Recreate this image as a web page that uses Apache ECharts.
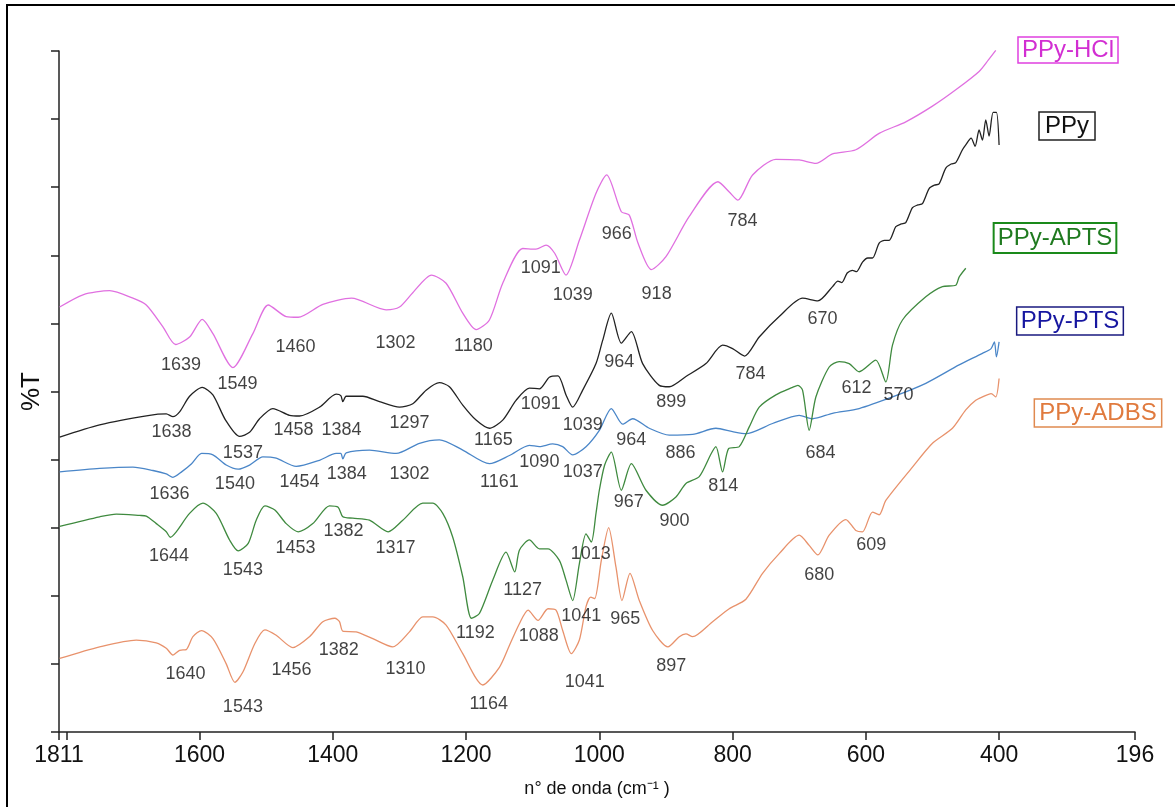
<!DOCTYPE html>
<html>
<head>
    <meta charset="utf-8">
    <title>FTIR PPy</title>
    <script src="https://cdn.jsdelivr.net/npm/echarts@6/dist/echarts.min.js"></script>
    <style>
        html, body { margin: 0; padding: 0; background: #fff; }
    </style>
</head>
<body>
    <div id="main" style="width: 1175px;height:807px;"></div>
    <script type="text/javascript">
        // eixo x (numero de onda) e rotulos
        var xTickValues = [1811, 1800, 1600, 1400, 1200, 1000, 800, 600, 400, 196];
        var xLabelValues = [1811, 1600, 1400, 1200, 1000, 800, 600, 400, 196];

        // espectros [numero de onda, %T relativo]
        var hclData = [
            [1810,6.24],[1775,6.42],[1735,6.48],[1700,6.37],[1680,6.27],[1655,5.95],[1636,5.69],[1615,5.80],
            [1596,6.06],[1580,5.85],[1550,5.35],[1520,5.85],[1497,6.27],[1470,6.10],[1452,6.09],[1415,6.28],
            [1372,6.37],[1320,6.20],[1300,6.24],[1280,6.45],[1252,6.71],[1230,6.59],[1205,6.15],[1185,5.91],
            [1165,6.05],[1145,6.59],[1115,7.10],[1095,7.09],[1080,7.15],[1067,7.03],[1050,6.71],[1030,7.22],
            [1005,7.91],[989,8.18],[967,7.64],[955,7.59],[942,7.18],[922,6.79],[900,6.98],[865,7.57],
            [822,8.08],[805,7.93],[792,7.81],[770,8.18],[735,8.41],[700,8.40],[675,8.35],[650,8.49],
            [615,8.55],[580,8.79],[540,8.96],[500,9.19],[465,9.43],[430,9.70],[416,9.87],[405,10.01]
        ];
        var ppyData = [
            [1810,4.33],[1750,4.51],[1675,4.65],[1650,4.67],[1640,4.63],[1630,4.70],[1615,4.93],[1596,5.06],
            [1580,4.95],[1561,4.58],[1540,4.34],[1525,4.40],[1510,4.60],[1490,4.75],[1465,4.65],[1450,4.64],
            [1420,4.77],[1395,4.96],[1388,4.94],[1385,4.85],[1380,4.93],[1355,4.93],[1330,4.85],[1300,4.77],
            [1280,4.82],[1260,5.02],[1240,5.13],[1225,5.07],[1205,4.80],[1185,4.58],[1165,4.46],[1145,4.58],
            [1125,4.87],[1105,5.05],[1090,5.04],[1075,5.21],[1062,5.23],[1050,4.95],[1040,4.77],[1025,5.02],
            [1005,5.41],[995,5.75],[982,6.15],[967,5.71],[952,5.88],[935,5.41],[910,5.09],[895,5.07],
            [870,5.22],[840,5.41],[815,5.68],[800,5.63],[782,5.52],[760,5.80],[730,6.10],[695,6.37],
            [672,6.33],[650,6.54],[642,6.62],[636,6.60],[628,6.74],[620,6.78],[614,6.76],[605,6.90],
            [597,6.96],[590,6.96],[580,7.18],[572,7.22],[565,7.22],[555,7.42],[547,7.46],[540,7.48],
            [530,7.70],[522,7.74],[515,7.76],[505,7.98],[497,8.03],[490,8.05],[480,8.28],[472,8.34],
            [465,8.36],[455,8.55],[450,8.62],[442,8.72],[436,8.60],[430,8.84],[425,8.69],[420,8.99],
            [415,8.75],[409,9.10],[404,9.10],[400,8.62]
        ];
        var ptsData = [
            [1810,3.82],[1750,3.87],[1700,3.89],[1670,3.84],[1650,3.79],[1640,3.74],[1627,3.82],[1612,3.94],
            [1597,4.09],[1580,4.07],[1560,3.92],[1542,3.86],[1525,3.92],[1505,4.04],[1485,4.02],[1455,3.90],
            [1420,3.99],[1395,4.09],[1388,4.09],[1385,4.01],[1380,4.10],[1345,4.14],[1305,4.09],[1270,4.24],
            [1240,4.29],[1205,4.14],[1165,3.94],[1135,4.06],[1105,4.21],[1090,4.19],[1070,4.23],[1055,4.19],
            [1040,4.07],[1020,4.19],[1000,4.43],[982,4.75],[965,4.52],[950,4.60],[925,4.46],[895,4.36],
            [860,4.37],[825,4.46],[800,4.41],[780,4.38],[740,4.53],[700,4.65],[680,4.60],[650,4.68],
            [610,4.75],[560,4.92],[510,5.12],[460,5.39],[425,5.56],[412,5.63],[407,5.73],[404,5.51],[400,5.73]
        ];
        var aptsData = [
            [1810,3.02],[1750,3.16],[1725,3.20],[1690,3.18],[1680,3.17],[1665,3.06],[1650,2.94],[1644,2.86],
            [1635,2.94],[1615,3.21],[1595,3.36],[1575,3.21],[1555,2.82],[1542,2.66],[1527,2.77],[1515,3.11],
            [1502,3.32],[1487,3.26],[1470,3.06],[1452,2.94],[1430,3.06],[1405,3.32],[1392,3.30],[1385,3.16],
            [1370,3.14],[1345,3.11],[1317,2.94],[1295,3.11],[1265,3.36],[1250,3.36],[1235,3.21],[1220,2.86],
            [1205,2.28],[1192,1.67],[1180,1.74],[1160,2.23],[1140,2.64],[1127,2.35],[1120,2.67],[1105,2.82],
            [1090,2.69],[1077,2.69],[1060,2.52],[1050,2.23],[1040,1.93],[1030,2.47],[1020,2.91],[1012,2.79],
            [1005,3.21],[1000,3.55],[992,3.92],[982,4.11],[967,3.55],[952,3.94],[930,3.55],[905,3.33],
            [885,3.45],[870,3.65],[850,3.75],[832,4.09],[825,4.19],[815,3.82],[806,4.16],[790,4.19],
            [775,4.48],[760,4.77],[735,4.95],[710,5.06],[702,5.09],[695,5.02],[685,4.43],[675,4.92],
            [655,5.36],[640,5.44],[625,5.41],[610,5.29],[585,5.46],[570,5.14],[560,5.68],[545,6.05],
            [510,6.39],[485,6.54],[465,6.56],[460,6.68],[450,6.81]
        ];
        var adbsData = [
            [1810,1.08],[1750,1.25],[1695,1.35],[1665,1.31],[1650,1.23],[1640,1.13],[1630,1.20],[1620,1.21],
            [1610,1.40],[1597,1.49],[1580,1.37],[1560,1.00],[1547,0.73],[1535,0.88],[1517,1.30],[1502,1.50],
            [1485,1.42],[1460,1.24],[1435,1.40],[1415,1.62],[1397,1.67],[1390,1.62],[1385,1.48],[1365,1.47],
            [1340,1.37],[1310,1.25],[1285,1.47],[1265,1.69],[1250,1.69],[1230,1.57],[1205,1.15],[1175,0.69],
            [1150,0.95],[1135,1.27],[1120,1.59],[1107,1.79],[1092,1.64],[1077,1.81],[1065,1.79],[1055,1.49],
            [1042,1.15],[1030,1.35],[1020,1.84],[1013,1.98],[1007,1.96],[997,2.52],[986,3.00],[975,2.42],
            [966,1.93],[954,2.33],[940,1.93],[920,1.49],[897,1.25],[880,1.40],[870,1.44],[860,1.40],
            [830,1.62],[805,1.81],[780,1.95],[755,2.33],[730,2.62],[700,2.89],[685,2.74],[672,2.60],
            [655,2.89],[630,3.12],[615,2.96],[605,2.94],[590,3.23],[580,3.19],[570,3.40],[530,3.89],
            [500,4.24],[470,4.46],[450,4.73],[435,4.87],[425,4.92],[412,4.97],[405,4.92],[400,5.19]
        ];

        // rotulos dos picos [texto, x, y]
        var hclPeaks = [
            ['1639',1628,5.39],['1549',1543,5.11],['1460',1456,5.65],['1302',1306,5.71],['1180',1189,5.67],
            ['1091',1088,6.81],['1039',1040,6.42],['966',974,7.31],['918',914,6.43],['784',785,7.50]
        ];
        var ppyPeaks = [
            ['1638',1642,4.40],['1537',1535,4.09],['1458',1459,4.43],['1384',1387,4.43],['1297',1285,4.54],
            ['1165',1159,4.29],['1091',1088,4.81],['1039',1025,4.51],['964',970,5.43],['899',892,4.84],
            ['784',773,5.25],['670',665,6.06]
        ];
        var ptsPeaks = [
            ['1636',1645,3.49],['1540',1547,3.64],['1454',1450,3.67],['1384',1379,3.79],['1302',1285,3.79],
            ['1161',1150,3.67],['1090',1090,3.96],['1037',1025,3.82],['964',952,4.29],['886',878,4.09]
        ];
        var aptsPeaks = [
            ['1644',1646,2.58],['1543',1535,2.38],['1453',1456,2.70],['1382',1384,2.95],['1317',1306,2.70],
            ['1192',1186,1.45],['1127',1115,2.08],['1041',1027,1.70],['1013',1013,2.61],['967',956,3.37],
            ['900',887,3.10],['814',814,3.61],['684',668,4.09],['612',614,5.05],['570',551,4.95]
        ];
        var adbsPeaks = [
            ['1640',1621,0.85],['1543',1535,0.36],['1456',1462,0.91],['1382',1391,1.20],['1310',1291,0.92],
            ['1164',1166,0.41],['1088',1091,1.41],['1041',1022,0.73],['965',961,1.66],['897',892,0.97],
            ['680',670,2.30],['609',592,2.74]
        ];

        var FONT = "'Liberation Sans', Arial, sans-serif";

        function lineSerie(name, data, color) {
            return {
                name: name,
                type: 'line',
                data: data,
                showSymbol: false,
                smooth: 0.25,
                clip: false,
                silent: true,
                lineStyle: { color: color, width: 1.3 },
                z: 3
            };
        }

        var allPeaks = [].concat(hclPeaks, ppyPeaks, ptsPeaks, aptsPeaks, adbsPeaks).map(function (p) {
            return { name: p[0], value: [p[1], p[2]] };
        });

        // caixas de legenda
        function legendBox(text, cx, cy, pad, color, border, bw) {
            return {
                type: 'text',
                x: cx,
                y: cy,
                style: {
                    text: text,
                    font: '24px ' + FONT,
                    fill: color,
                    align: 'center',
                    verticalAlign: 'middle',
                    lineHeight: 24,
                    padding: pad,
                    borderColor: border,
                    borderWidth: bw
                },
                z: 10
            };
        }

        var myChart = echarts.init(document.getElementById('main'));

        option = {
            backgroundColor: '#fff',
            animation: false,
            grid: {
                left: 59,
                right: 40,
                top: 51,
                bottom: 75
            },
            xAxis: {
                type: 'value',
                min: 196,
                max: 1811,
                inverse: true,
                name: 'n° de onda (cm⁻¹ )',
                nameLocation: 'middle',
                nameGap: 48,
                nameTextStyle: { fontSize: 18, color: '#111', fontFamily: FONT },
                axisLine: { show: true, lineStyle: { color: '#222', width: 1.5 } },
                axisTick: { show: true, length: 8, lineStyle: { color: '#222', width: 1.5 }, customValues: xTickValues },
                axisLabel: {
                    fontSize: 23, color: '#111', fontFamily: FONT, margin: 12,
                    customValues: xLabelValues,
                    formatter: function (v) { return String(v); }
                },
                splitLine: { show: false }
            },
            yAxis: {
                type: 'value',
                min: 0,
                max: 10,
                interval: 1,
                name: '%T',
                nameLocation: 'middle',
                nameGap: 14,
                nameTextStyle: { fontSize: 26, color: '#111', fontFamily: FONT },
                axisLine: { show: true, lineStyle: { color: '#222', width: 1.5 } },
                axisTick: { show: true, length: 8, lineStyle: { color: '#222', width: 1.5 } },
                axisLabel: { show: false },
                splitLine: { show: false }
            },
            graphic: [
                {
                    type: 'rect',
                    shape: { x: 7, y: 5, width: 1180, height: 820 },
                    style: { fill: 'none', stroke: '#000', lineWidth: 2 },
                    silent: true
                },
                legendBox('PPy-HCl', 1068, 50, [1, 4], '#d22ed2', '#e040e0', 1.5),
                legendBox('PPy', 1067, 126, [2, 6], '#111', '#222', 1.5),
                legendBox('PPy-APTS', 1055, 238, [3, 4], '#1f7a1f', '#1a8a1a', 2),
                legendBox('PPy-PTS', 1070, 321, [2, 4], '#1616a0', '#1a1a80', 1.5),
                legendBox('PPy-ADBS', 1098, 413, [2, 5], '#e07a3e', '#e08a50', 1.5)
            ],
            series: [
                lineSerie('PPy-HCl', hclData, '#e070e0'),
                lineSerie('PPy', ppyData, '#222'),
                lineSerie('PPy-PTS', ptsData, '#4a86c8'),
                lineSerie('PPy-APTS', aptsData, '#3f8a3f'),
                lineSerie('PPy-ADBS', adbsData, '#e8926c'),
                {
                    name: 'picos',
                    type: 'scatter',
                    data: allPeaks,
                    symbolSize: 0,
                    silent: true,
                    clip: false,
                    z: 5,
                    label: {
                        show: true,
                        position: [0, 0],
                        align: 'center',
                        verticalAlign: 'middle',
                        formatter: '{b}',
                        fontSize: 18,
                        color: '#111',
                        fontFamily: FONT
                    }
                }
            ]
        };

        myChart.setOption(option);
    </script>
</body>
</html>
